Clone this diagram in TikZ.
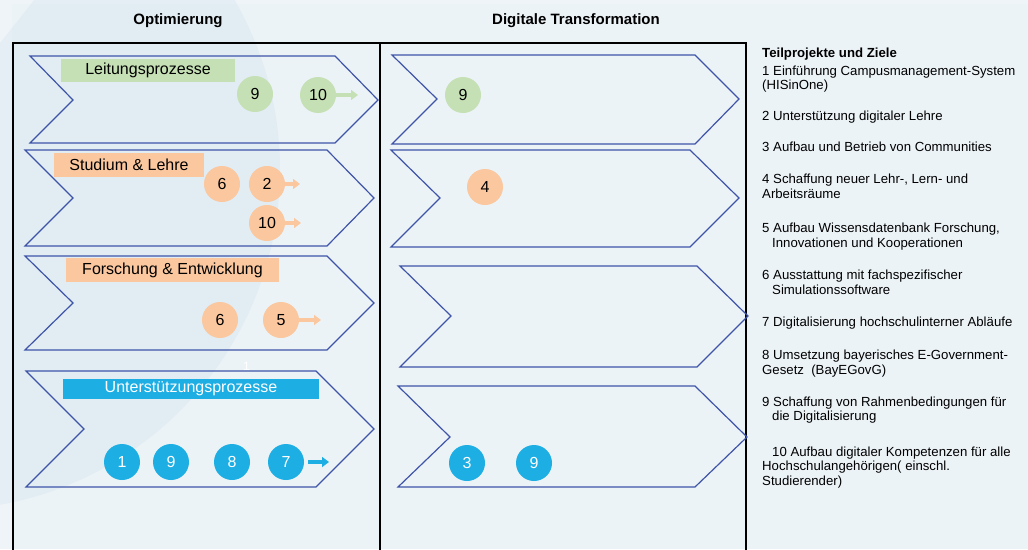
\documentclass[tikz,border=0pt]{standalone}
\usepackage{fontspec}
\setmainfont{Liberation Sans}
\usetikzlibrary{arrows.meta}

\definecolor{bgouter}{RGB}{236,243,247}
\definecolor{bginner}{RGB}{226,236,243}
\definecolor{chevblue}{RGB}{62,84,168}
\definecolor{lgreen}{RGB}{197,224,180}
\definecolor{lorange}{RGB}{250,199,158}
\definecolor{skyblue}{RGB}{29,174,228}

\begin{document}
\begin{tikzpicture}[x=1pt,y=-1pt,
  chev/.style={draw=chevblue, line width=1.2pt, line join=miter},
  framebox/.style={draw=black, line width=1.8pt},
  heading/.style={anchor=base, inner sep=0pt, font=\bfseries\fontsize{15}{18}\selectfont},
  tag/.style={inner sep=0pt, font=\fontsize{16}{19}\selectfont, text=black},
  num/.style={circle, inner sep=0pt, minimum size=36pt, font=\fontsize{16}{19}\selectfont},
  gnum/.style={num, fill=lgreen, text=black},
  onum/.style={num, fill=lorange, text=black},
  bnum/.style={num, fill=skyblue, text=white},
  push/.style={line width=4pt, -{Triangle[length=7pt,width=10pt]}},
  item/.style={anchor=base west, inner sep=0pt, font=\fontsize{13.2}{15}\selectfont},
  itemhead/.style={item, font=\bfseries\fontsize{13.2}{15}\selectfont}
]
\useasboundingbox (0,0) rectangle (1028,549);
\clip (0,0) rectangle (1028,549);

% background with a large soft disc on the left
\fill[bgouter] (0,0) rectangle (1028,549);
\fill[bginner] (-60,170) circle (340pt);
\fill[bgouter] (0,0) -- (34,0) -- (0,43) -- cycle;
\fill[white, opacity=0.12, even odd rule] (0,0) rectangle (1028,549) (12,4) rectangle (1028,549);

% column headings
\node[heading] (hopt) at (178,24) {Optimierung};
\node[heading] (hdig) at (576,24) {Digitale Transformation};

% outer frame and column divider
\draw[framebox] (13,560) -- (13,43) -- (746,43) -- (746,560);
\draw[framebox] (380,43) -- (380,560);

% process chevrons, left column
\draw[chev] (30,56) -- (335,56) -- (378,100) -- (335,143) -- (30,143) -- (73,100) -- cycle;
\draw[chev] (25,150) -- (327,150) -- (374,198) -- (327,246) -- (25,246) -- (73,198) -- cycle;
\draw[chev] (25,256) -- (327,256) -- (374,303) -- (327,350) -- (25,350) -- (73,303) -- cycle;
\draw[chev] (26,371) -- (316,371) -- (374,429) -- (316,487) -- (26,487) -- (84,429) -- cycle;

% process chevrons, right column
\draw[chev] (392,55) -- (695,55) -- (739,99) -- (695,144) -- (392,144) -- (437,99) -- cycle;
\draw[chev] (391,150) -- (690,150) -- (739,198) -- (690,247) -- (391,247) -- (440,198) -- cycle;
\draw[chev] (400,266) -- (697,266) -- (748,316) -- (697,367) -- (400,367) -- (451,316) -- cycle;
\draw[chev] (398,386) -- (695,386) -- (747,437) -- (695,487) -- (398,487) -- (450,437) -- cycle;

% row labels
\node[tag, fill=lgreen, minimum width=174pt, minimum height=23pt] (lleit) at (148,70.5) {Leitungsprozesse};
\node[tag, fill=lorange, minimum width=150pt, minimum height=24pt] (lstud) at (129,165) {Studium \& Lehre};
\node[tag, fill=lorange, minimum width=213pt, minimum height=24pt] (lfor) at (172.5,270) {Forschung \& Entwicklung};
\node[tag, fill=skyblue, text=white, minimum width=256pt, minimum height=20pt] (lunt) at (191,389) {Unterstützungsprozesse};

% small stray mark
\node[inner sep=0pt, text=white, font=\fontsize{12}{14}\selectfont] (mark) at (246.5,366) {1};

% sub-project markers, left column
\node[gnum] (g9) at (255,94) {9};
\node[gnum] (g10) at (318,95) {10};
\node[onum] (o6) at (222,184) {6};
\node[onum] (o2) at (267,184) {2};
\node[onum] (o10) at (267,223) {10};
\node[onum] (f6) at (220,320) {6};
\node[onum] (f5) at (281,320) {5};
\node[bnum] (b1) at (122,462) {1};
\node[bnum] (b9) at (171,462) {9};
\node[bnum] (b8) at (232,462) {8};
\node[bnum] (b7) at (286,462) {7};

% sub-project markers, right column
\node[gnum] (rg9) at (463,95) {9};
\node[onum] (ro4) at (485,187) {4};
\node[bnum] (rb3) at (467,463) {3};
\node[bnum] (rb9) at (534,463) {9};

% continuation arrows
\coordinate (g10tip) at (358,95);
\coordinate (o2tip) at (300,184);
\coordinate (o10tip) at (301,223);
\coordinate (f5tip) at (321,320);
\coordinate (b7tail) at (308,462);
\coordinate (b7tip) at (329,462);
\draw[push, draw=lgreen] (g10.east) -- (g10tip);
\draw[push, draw=lorange] (o2.east) -- (o2tip);
\draw[push, draw=lorange] (o10.east) -- (o10tip);
\draw[push, draw=lorange] (f5.east) -- (f5tip);
\draw[push, draw=skyblue] (b7tail) -- (b7tip);

% legend of sub-projects
\node[itemhead] (t0) at (762,57.3) {Teilprojekte und Ziele};
\node[item] (t1a) at (762,75.3) {1 Einführung Campusmanagement-System};
\node[item] (t1b) at (762,89.8) {(HISinOne)};
\node[item] (t2) at (762,120.3) {2 Unterstützung digitaler Lehre};
\node[item] (t3) at (762,151.5) {3 Aufbau und Betrieb von Communities};
\node[item] (t4a) at (762,183) {4 Schaffung neuer Lehr-, Lern- und};
\node[item] (t4b) at (762,198) {Arbeitsräume};
\node[item] (t5a) at (762,232) {5 Aufbau Wissensdatenbank Forschung,};
\node[item] (t5b) at (772,247) {Innovationen und Kooperationen};
\node[item] (t6a) at (762,279) {6 Ausstattung mit fachspezifischer};
\node[item] (t6b) at (772,294) {Simulationssoftware};
\node[item] (t7) at (762,326) {7 Digitalisierung hochschulinterner Abläufe};
\node[item] (t8a) at (762,359) {8 Umsetzung bayerisches E-Government-};
\node[item] (t8b) at (762,374) {Gesetz\ \ (BayEGovG)};
\node[item] (t9a) at (762,406) {9 Schaffung von Rahmenbedingungen für};
\node[item] (t9b) at (772,420.5) {die Digitalisierung};
\node[item] (t10a) at (772,456) {10 Aufbau digitaler Kompetenzen für alle};
\node[item] (t10b) at (762,470.7) {Hochschulangehörigen( einschl.};
\node[item] (t10c) at (762,485) {Studierender)};
\end{tikzpicture}
\end{document}
